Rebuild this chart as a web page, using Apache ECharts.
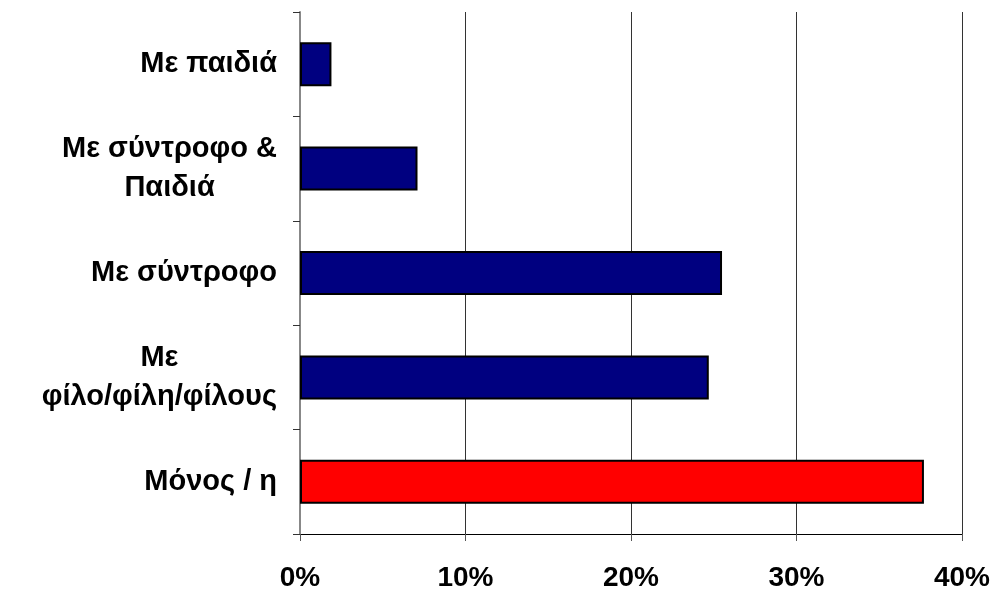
<!DOCTYPE html>
<html>
<head>
<meta charset="utf-8">
<script src="https://cdn.jsdelivr.net/npm/echarts@6/dist/echarts.min.js"></script>
<style>html,body{margin:0;padding:0;background:#fff}#c{width:998px;height:592px}</style>
</head>
<body>
<div id="c"></div>
<script>
const categories = ['Μόνος / η', 'Με\nφίλο/φίλη/φίλους', 'Με σύντροφο', 'Με σύντροφο &\nΠαιδιά', 'Με παιδιά'];
const values = [37.7, 24.7, 25.5, 7.1, 1.9];
const barColors = ['#FF0000', '#000080', '#000080', '#000080', '#000080'];
const xTicks = [0, 10, 20, 30, 40];

const chart = echarts.init(document.getElementById('c'), null, {renderer: 'canvas'});
const font = '"Liberation Sans", Arial, sans-serif';
const labelStyle = {color: '#000', fontFamily: font, fontWeight: 'bold', fontSize: 29, lineHeight: 39, align: 'center'};
chart.setOption({
  animation: false,
  backgroundColor: '#fff',
  grid: {left: 300, right: 36, top: 12, bottom: 57, containLabel: false},
  xAxis: {
    type: 'value', min: xTicks[0], max: xTicks[xTicks.length - 1], interval: 10,
    axisLine: {show: true, lineStyle: {color: '#000', width: 1}},
    axisTick: {show: true, length: 7, lineStyle: {color: '#555'}},
    splitLine: {show: true, lineStyle: {color: '#333', width: 1}},
    axisLabel: {formatter: v => v + '%', color: '#000', fontFamily: font, fontWeight: 'bold', fontSize: 28, margin: 30}
  },
  yAxis: {
    type: 'category', data: categories,
    axisLine: {show: true, lineStyle: {color: '#888', width: 2}},
    axisTick: {show: true, length: 7, alignWithLabel: false, lineStyle: {color: '#333'}},
    axisLabel: {
      color: '#000', fontFamily: font, fontWeight: 'bold', fontSize: 29, lineHeight: 39,
      align: 'right', margin: 23,
      formatter: v => v.split('\n').map(s => '{c|' + s + '}').join('\n'),
      rich: {c: labelStyle}
    }
  },
  series: [{
    type: 'bar',
    data: values.map((v, i) => ({value: v, itemStyle: {color: barColors[i]}})),
    barWidth: 44,
    itemStyle: {borderColor: '#000', borderWidth: 2}
  }]
});
</script>
</body>
</html>
